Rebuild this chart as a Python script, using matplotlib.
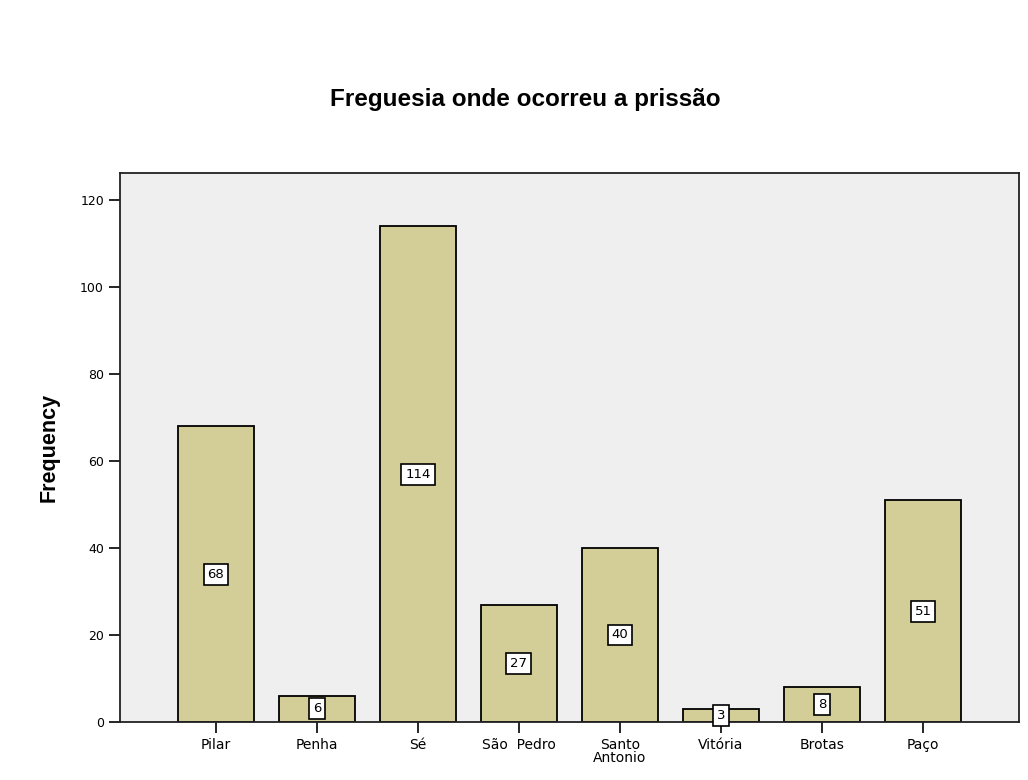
import matplotlib.pyplot as plt
import numpy as np

# categories and counts
freguesias = ['Pilar', 'Penha', 'Sé', 'São  Pedro', 'Santo\nAntonio', 'Vitória', 'Brotas', 'Paço']
contagens = [68, 6, 114, 27, 40, 3, 8, 51]
yticks = [0, 20, 40, 60, 80, 100, 120]

fig = plt.figure(figsize=(10.28, 7.8), dpi=100)
ax = fig.add_axes([0.1167, 0.0744, 0.8745, 0.7036])
ax.set_facecolor('#efefef')

x = np.arange(len(freguesias))
bars = ax.bar(x, contagens, width=0.75, color='#d3cd98', edgecolor='black', linewidth=1.3, zorder=2)

# value labels in white boxes at half the bar height
for xi, v in zip(x, contagens):
    ax.text(xi, v / 2, str(v), ha='center', va='center', fontsize=9.5,
            bbox=dict(boxstyle='square,pad=0.3', fc='white', ec='black', lw=1.2), zorder=3)

ax.set_xlim(-0.95, 7.95)
ax.set_ylim(0, 126.2)
ax.set_yticks(yticks)
ax.set_xticks(x)
ax.set_xticklabels(freguesias, fontsize=10, linespacing=0.9)
ax.tick_params(axis='y', labelsize=9, length=8, width=1.2, direction='out')
ax.tick_params(axis='x', length=8, width=1.2, direction='out')
for s in ax.spines.values():
    s.set_linewidth(1.3)
    s.set_color('#222222')

ax.set_ylabel('Frequency', fontsize=15.5, fontweight='bold', family='Liberation Sans', labelpad=15)
fig.text(0.511, 0.872, 'Freguesia onde ocorreu a prissão', ha='center', va='center',
         fontsize=17.5, fontweight='bold', family='Liberation Sans')

fig.savefig('out.png', dpi=100)
